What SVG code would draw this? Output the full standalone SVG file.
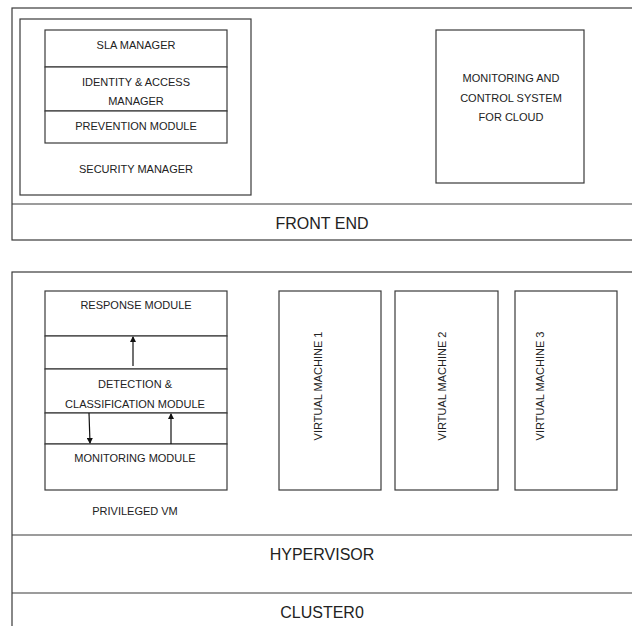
<svg xmlns="http://www.w3.org/2000/svg" width="632" height="626" viewBox="0 0 632 626">
<defs>
<style>
.b{fill:#fff;stroke:#3a3a3a;stroke-width:1.2}
.l{stroke:#3a3a3a;stroke-width:1.2;fill:none}
.t{font-family:"Liberation Sans",Arial,sans-serif;font-size:11px;fill:#222;text-anchor:middle}
.T{font-family:"Liberation Sans",Arial,sans-serif;font-size:16px;fill:#222;text-anchor:middle}
.a{stroke:#111;stroke-width:1.2;fill:none}
</style>
<marker id="ah" markerWidth="6" markerHeight="6" refX="5" refY="3" orient="auto" markerUnits="userSpaceOnUse">
<path d="M0,0 L6,3 L0,6 Z" fill="#111"/>
</marker>
</defs>
<rect width="632" height="626" fill="#fff"/>

<g id="front-end">
<rect class="b" x="12" y="8" width="625" height="232"/>
<line class="l" x1="12" y1="204" x2="637" y2="204"/>
<text class="T" x="322" y="229">FRONT END</text>
</g>

<g id="security-manager">
<rect class="b" x="20" y="19" width="231" height="176"/>
<text class="t" x="136" y="173">SECURITY MANAGER</text>
</g>
<g id="sla-manager">
<rect class="b" x="45" y="30" width="182" height="37"/>
<text class="t" x="136" y="49">SLA MANAGER</text>
</g>
<g id="identity-access-manager">
<rect class="b" x="45" y="67" width="182" height="44"/>
<text class="t" x="136" y="86">IDENTITY &amp; ACCESS</text>
<text class="t" x="136" y="105">MANAGER</text>
</g>
<g id="prevention-module">
<rect class="b" x="45" y="111" width="182" height="32"/>
<text class="t" x="136" y="130">PREVENTION MODULE</text>
</g>

<g id="monitoring-control">
<rect class="b" x="436" y="30" width="148" height="153"/>
<text class="t" x="511" y="82">MONITORING AND</text>
<text class="t" x="511" y="102">CONTROL SYSTEM</text>
<text class="t" x="511" y="121">FOR CLOUD</text>
</g>

<g id="cluster0">
<rect class="b" x="12" y="272" width="625" height="365"/>
<text class="T" x="322" y="618">CLUSTER0</text>
</g>
<g id="hypervisor">
<line class="l" x1="12" y1="535" x2="637" y2="535"/>
<line class="l" x1="12" y1="593" x2="637" y2="593"/>
<text class="T" x="322" y="560">HYPERVISOR</text>
</g>

<g id="privileged-vm">
<text class="t" x="135" y="515">PRIVILEGED VM</text>
</g>
<g id="response-module">
<rect class="b" x="45" y="291" width="182" height="45"/>
<text class="t" x="136" y="309">RESPONSE MODULE</text>
</g>
<g id="gap-1">
<rect class="b" x="45" y="336" width="182" height="33"/>
</g>
<g id="detection-classification">
<rect class="b" x="45" y="369" width="182" height="44"/>
<text class="t" x="135" y="388">DETECTION &amp;</text>
<text class="t" x="135" y="408">CLASSIFICATION MODULE</text>
</g>
<g id="gap-2">
<rect class="b" x="45" y="413" width="182" height="31"/>
</g>
<g id="monitoring-module">
<rect class="b" x="45" y="444" width="182" height="46"/>
<text class="t" x="135" y="462">MONITORING MODULE</text>
</g>

<g id="vm1">
<rect class="b" x="279" y="291" width="102" height="199"/>
<text class="t" transform="translate(322,386) rotate(-90)">VIRTUAL MACHINE 1</text>
</g>
<g id="vm2">
<rect class="b" x="395" y="291" width="103" height="199"/>
<text class="t" transform="translate(446,386) rotate(-90)">VIRTUAL MACHINE 2</text>
</g>
<g id="vm3">
<rect class="b" x="515" y="291" width="102" height="199"/>
<text class="t" transform="translate(544,386) rotate(-90)">VIRTUAL MACHINE 3</text>
</g>

<g id="connectors">
<line class="a" x1="133" y1="366" x2="133" y2="337" marker-end="url(#ah)"/>
<line class="a" x1="89" y1="413" x2="90" y2="443" marker-end="url(#ah)"/>
<line class="a" x1="171" y1="444" x2="171" y2="414" marker-end="url(#ah)"/>
</g>
</svg>
